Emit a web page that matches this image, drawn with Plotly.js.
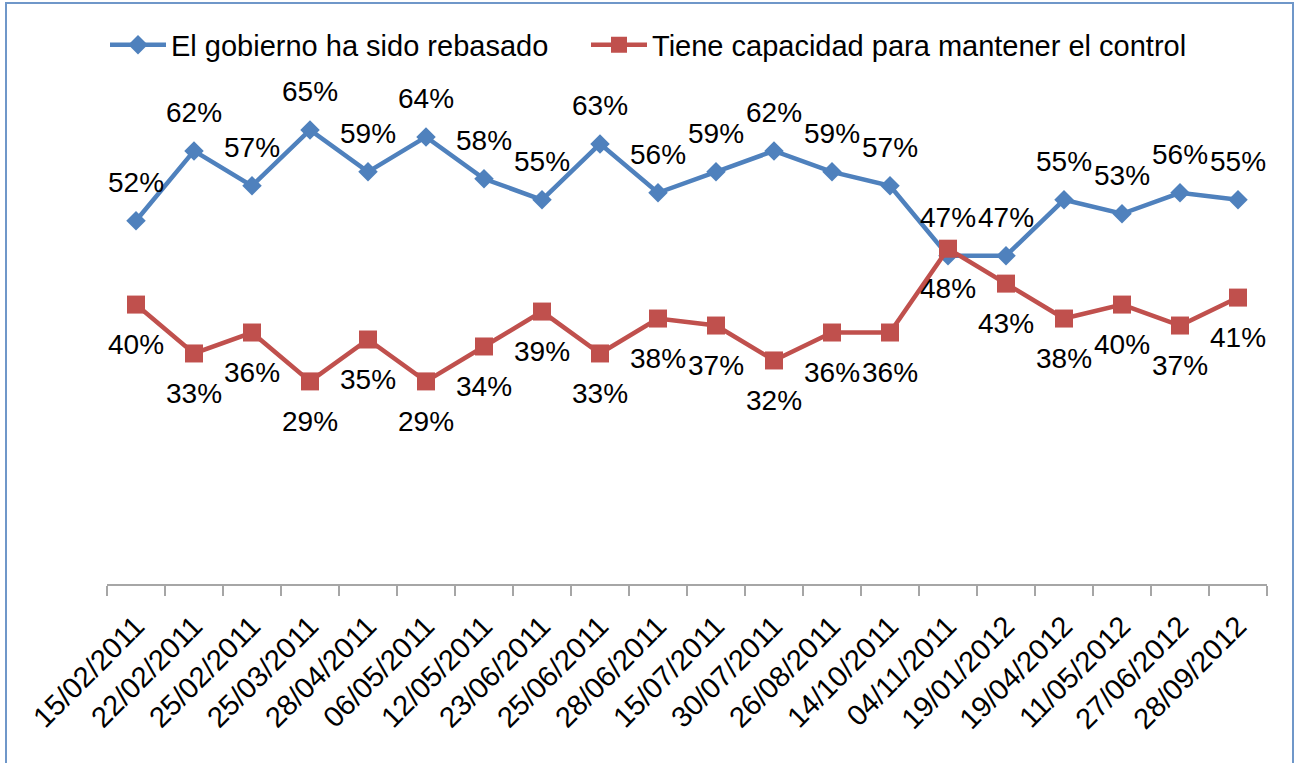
<!DOCTYPE html>
<html>
<head>
<meta charset="utf-8">
<script src="https://cdn.plot.ly/plotly-3.0.1.min.js"></script>
<style>
  html, body { margin: 0; padding: 0; background: #ffffff; }
  #chart { width: 1301px; height: 763px; }
</style>
</head>
<body>
<div id="chart"></div>
<script>
const categories = ["15/02/2011","22/02/2011","25/02/2011","25/03/2011","28/04/2011","06/05/2011","12/05/2011","23/06/2011","25/06/2011","28/06/2011","15/07/2011","30/07/2011","26/08/2011","14/10/2011","04/11/2011","19/01/2012","19/04/2012","11/05/2012","27/06/2012","28/09/2012"];
const seriesNames = ["El gobierno ha sido rebasado", "Tiene capacidad para mantener el control"];
const rebasado = [52,62,57,65,59,64,58,55,63,56,59,62,59,57,47,47,55,53,56,55];
const control  = [40,33,36,29,35,29,34,39,33,38,37,32,36,36,48,43,38,40,37,41];

const FONT = "Arial, 'Liberation Sans', sans-serif";
const BLUE = "#4F81BD";
const RED = "#C0504D";

const traces = [
  {
    x: categories, y: rebasado, name: seriesNames[0], type: "scatter", mode: "lines+markers",
    line: { color: BLUE, width: 4.5 },
    marker: { symbol: "diamond", size: 15, color: BLUE },
    hoverinfo: "skip", legend: "legend"
  },
  {
    x: categories, y: control, name: seriesNames[1], type: "scatter", mode: "lines+markers",
    line: { color: RED, width: 4.5 },
    marker: { symbol: "square", size: 18, color: RED },
    hoverinfo: "skip", legend: "legend2"
  }
];

const annotations = [];
categories.forEach((c, i) => {
  annotations.push({ x: c, y: rebasado[i], xref: "x", yref: "y", text: rebasado[i] + "%",
    showarrow: false, yshift: 38, font: { family: FONT, size: 28, color: "#000000" } });
  annotations.push({ x: c, y: control[i], xref: "x", yref: "y", text: control[i] + "%",
    showarrow: false, yshift: -40, font: { family: FONT, size: 28, color: "#000000" } });
});

const L = 107, R = 34, T = 95, B = 179, W = 1301, H = 763;
const pw = W - L - R, ph = H - T - B;
const px = v => (v - L) / pw;
const py = v => (H - B - v) / ph;

const legendBase = {
  orientation: "h", xref: "container", yref: "container",
  xanchor: "left", y: 1 - 45 / H, yanchor: "middle",
  font: { family: FONT, size: 29, color: "#000000" },
  itemwidth: 56, bgcolor: "rgba(0,0,0,0)"
};

const layout = {
  width: W, height: H,
  margin: { l: L, r: R, t: T, b: B, pad: 0 },
  paper_bgcolor: "#ffffff", plot_bgcolor: "#ffffff",
  font: { family: FONT, size: 28, color: "#000000" },
  showlegend: true,
  legend: Object.assign({}, legendBase, { x: 105 / W }),
  legend2: Object.assign({}, legendBase, { x: 586 / W }),
  xaxis: {
    type: "category", showgrid: false, zeroline: false,
    showline: true, linecolor: "#A6A6A6", linewidth: 1.5,
    ticks: "outside", ticklen: 10, tickcolor: "#A6A6A6", tickwidth: 1.5,
    tickson: "boundaries", tickangle: -45, ticklabelstandoff: 12,
    tickfont: { family: FONT, size: 29, color: "#000000" },
    range: [-0.5, categories.length - 0.5], fixedrange: true
  },
  yaxis: {
    range: [0, 70], visible: false, showgrid: false, zeroline: false, fixedrange: true
  },
  annotations: annotations,
  shapes: [
    { type: "rect", xref: "paper", yref: "paper", layer: "above",
      x0: px(6), x1: px(1293), y0: py(770), y1: py(3),
      line: { color: "#6F97C9", width: 2 }, fillcolor: "rgba(0,0,0,0)" }
  ]
};

Plotly.newPlot("chart", traces, layout, { displayModeBar: false, staticPlot: true });
</script>
</body>
</html>
